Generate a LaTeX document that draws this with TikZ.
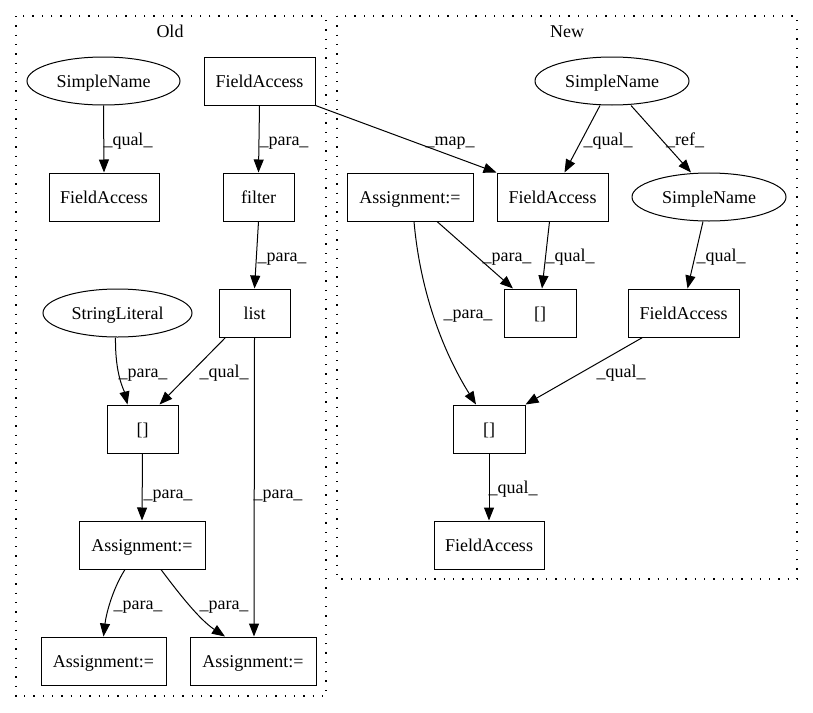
\documentclass[tikz,border=0pt]{standalone}
\usepackage{fontspec}
\setmainfont{Liberation Serif}
\usetikzlibrary{shapes.geometric,arrows.meta}
\begin{document}
\begin{tikzpicture}[x=1pt,y=-1pt,
 txt/.style={font=\fontsize{18}{20}\selectfont, text height=12pt, text depth=0pt},
 box/.style={txt, draw, line width=1pt, minimum height=48pt, inner sep=0pt},
 oval/.style={txt, ellipse, draw, line width=1pt, minimum height=48pt, inner sep=0pt},
 lbl/.style={txt, inner sep=0pt},
 edge/.style={draw, line width=1pt, -{Triangle[length=13pt,width=10pt]}},
 cluster/.style={draw, dash pattern=on 1.3pt off 8pt, line width=1.3pt}]
\useasboundingbox (0,0) rectangle (813,712);
% clusters
\draw[cluster] (16,16) rectangle (326,696);
\draw[cluster] (337,16) rectangle (797,579);
\node[lbl] (oldlbl) at (170,31) {Old};
\node[lbl] (newlbl) at (567,31) {New};
% Old nodes
\node[oval, minimum width=153pt] (sn1) at (103.5,81) {SimpleName};
\node[box, minimum width=111pt] (fa1) at (259.5,81) {FieldAccess};
\node[box, minimum width=110pt] (fa2) at (104,197) {FieldAccess};
\node[box, minimum width=71pt] (filter) at (258.5,197) {filter};
\node[oval, minimum width=149pt] (sl) at (117.5,313) {StringLiteral};
\node[box, minimum width=71pt] (list) at (254.5,313) {list};
\node[box, minimum width=71pt] (ob) at (142.5,429) {[]};
\node[box, minimum width=126pt] (ao) at (142,545) {Assignment:=};
\node[box, minimum width=125pt] (al) at (103.5,661) {Assignment:=};
\node[box, minimum width=126pt] (ar) at (253,661) {Assignment:=};
% New nodes
\node[oval, minimum width=154pt] (sn3) at (612,81) {SimpleName};
\node[box, minimum width=126pt] (asn) at (410,197) {Assignment:=};
\node[box, minimum width=111pt] (fan) at (552.5,197) {FieldAccess};
\node[oval, minimum width=154pt] (sn4) at (709,197) {SimpleName};
\node[box, minimum width=72pt] (ub) at (540,313) {[]};
\node[box, minimum width=111pt] (fam) at (683.5,313) {FieldAccess};
\node[box, minimum width=72pt] (lb) at (489,429) {[]};
\node[box, minimum width=110pt] (fab) at (489,545) {FieldAccess};
% Old edges
\draw[edge] (sn1.south) -- (fa2.north);
\draw[edge] (fa1.south) -- (filter.north);
\draw[edge] (filter.south) -- (list.north);
\draw[edge] ([xshift=-2pt]sl.south) .. controls (115,375) and (124,390) .. ([xshift=-15pt]ob.north);
\draw[edge] ([xshift=-29pt]list.south) -- ([xshift=17pt]ob.north);
\draw[edge] (list.south) -- ([xshift=1pt]ar.north);
\draw[edge] (ob.south) -- (ao.north);
\draw[edge] ([xshift=-17pt]ao.south) .. controls (112,590) and (106,615) .. (al.north);
\draw[edge] ([xshift=19pt]ao.south) .. controls (180,595) and (200,620) .. ([xshift=-28pt]ar.north);
% cross edge
\draw[edge] (fa1.south east) -- (fan.north west);
% New edges
\draw[edge] ([xshift=-12pt]sn3.south) -- ([xshift=12pt]fan.north);
\draw[edge] ([xshift=19pt]sn3.south) -- ([xshift=-18pt]sn4.north);
\draw[edge] ([xshift=27pt]asn.south) -- ([xshift=-27pt]ub.north);
\draw[edge] ([xshift=-3pt]fan.south) -- ([xshift=2pt]ub.north);
\draw[edge] ([xshift=4pt]asn.south) .. controls (420,290) and (442,350) .. ([xshift=-13pt]lb.north);
\draw[edge] ([xshift=-6pt]sn4.south) -- ([xshift=4pt]fam.north);
\draw[edge] ([xshift=-41pt]fam.south) -- (lb.north east);
\draw[edge] (lb.south) -- (fab.north);
% edge labels
\node[lbl] (l1) at (128,139) {\_qual\_};
\node[lbl] (l2) at (284,139) {\_para\_};
\node[lbl] (l3) at (282,255) {\_para\_};
\node[lbl] (l4) at (143,371) {\_para\_};
\node[lbl] (l5) at (224,371) {\_qual\_};
\node[lbl] (l6) at (168,492) {\_para\_};
\node[lbl] (l7) at (278,492) {\_para\_};
\node[lbl] (l8) at (138,603) {\_para\_};
\node[lbl] (l9) at (224,603) {\_para\_};
\node[lbl] (l10) at (450,139) {\_map\_};
\node[lbl] (l11) at (608,139) {\_qual\_};
\node[lbl] (l12) at (685,139) {\_ref\_};
\node[lbl] (l13) at (507,255) {\_para\_};
\node[lbl] (l14) at (570,255) {\_qual\_};
\node[lbl] (l15) at (721,255) {\_qual\_};
\node[lbl] (l16) at (468,312) {\_para\_};
\node[lbl] (l17) at (621,371) {\_qual\_};
\node[lbl] (l18) at (513,487) {\_qual\_};
\end{tikzpicture}
\end{document}
